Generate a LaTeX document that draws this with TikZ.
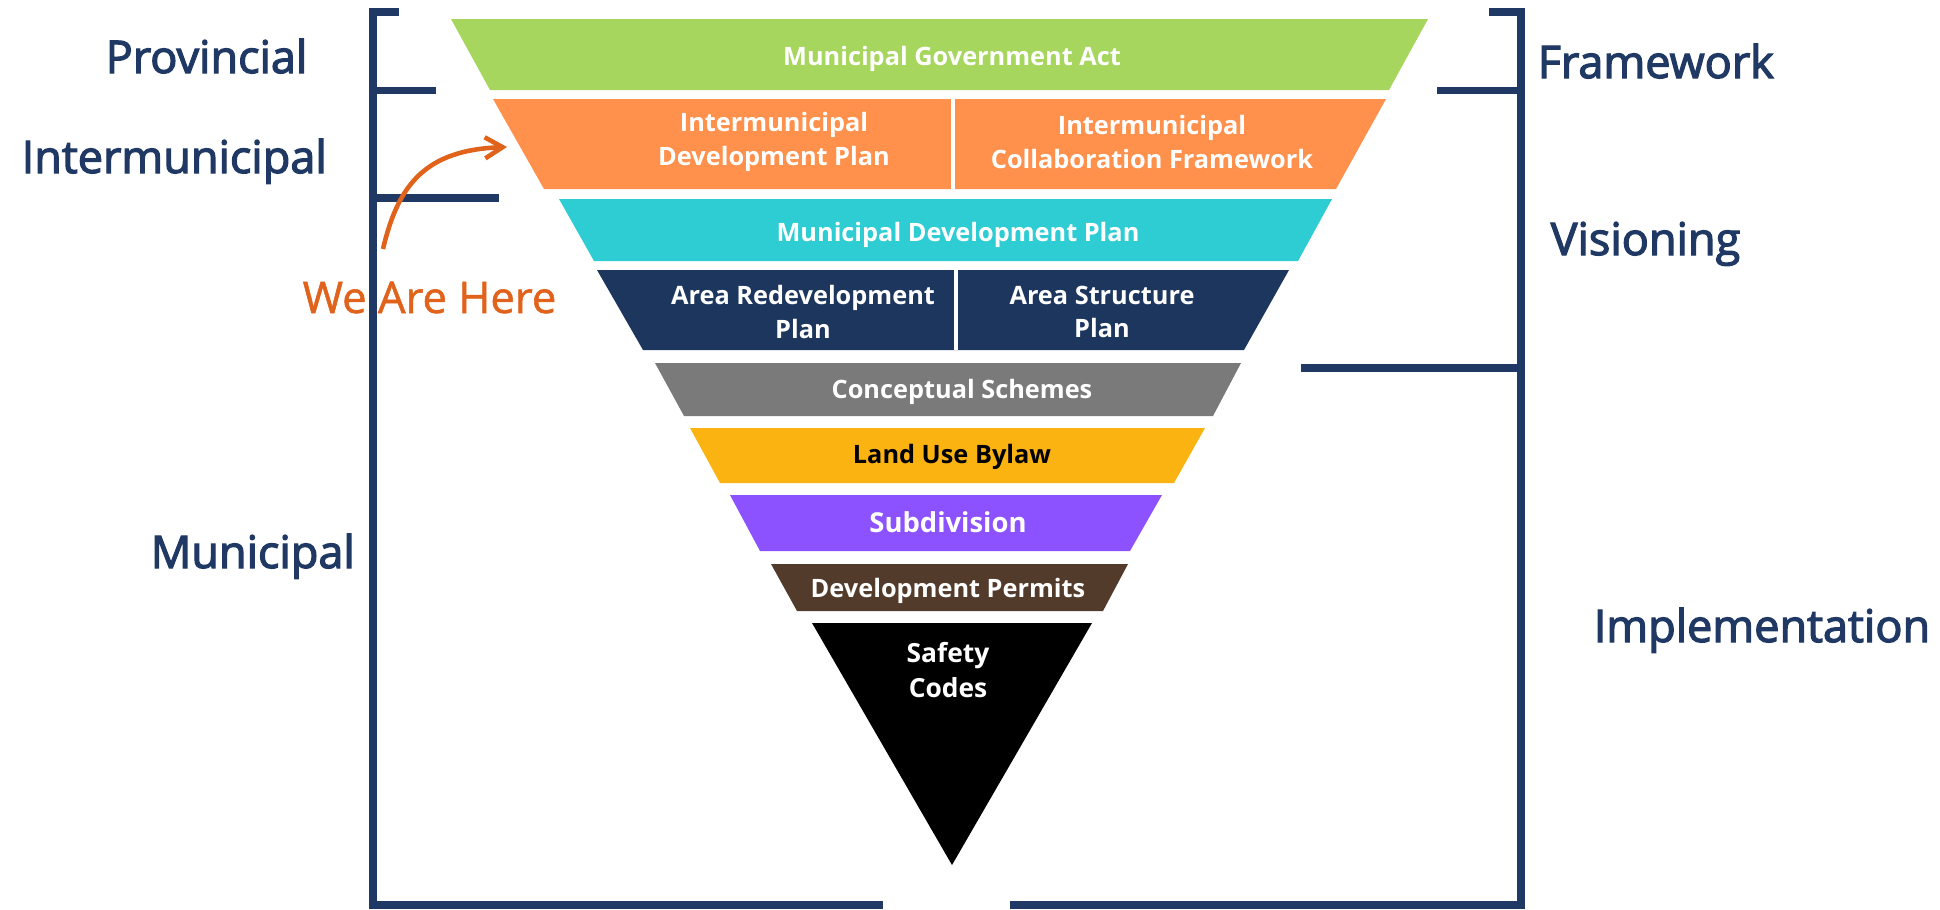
\documentclass[tikz,border=0pt]{standalone}
\usepackage{fontspec}
\setmainfont{Open Sans}
\usepackage{xcolor}
\usepackage{tikz}
\usetikzlibrary{arrows.meta,positioning}

\definecolor{navyline}{HTML}{1F3864}
\definecolor{actgreen}{HTML}{A6D65E}
\definecolor{interorange}{HTML}{FF914D}
\definecolor{mdpcyan}{HTML}{2ECCD3}
\definecolor{areanavy}{HTML}{1C365E}
\definecolor{schemegrey}{HTML}{7A7A7A}
\definecolor{bylawyellow}{HTML}{FBB312}
\definecolor{subpurple}{HTML}{8C52FF}
\definecolor{permitbrown}{HTML}{533B2C}
\definecolor{hereorange}{HTML}{E0621B}

% heavier text by stroking the glyph outlines
\newcommand{\thicktext}[2]{\special{pdf:literal direct 2 Tr #1 w}#2\special{pdf:literal direct 0 Tr}}

\begin{document}
\begin{tikzpicture}[x=0.01cm,y=-0.01cm,
  bracket/.style={draw=navyline, line width=2.2pt},
  sidelabel/.style={anchor=base west, inner sep=0pt, text=navyline,
    font=\fontsize{12.8}{15}\selectfont},
  bandlabel/.style={inner sep=0pt, text=white, align=center,
    font=\fontsize{7.2}{9.6}\selectfont\bfseries},
  wearrow/.style={draw=hereorange, line width=1.3pt,
    -{Straight Barb[length=5pt,width=6pt]}}]

  \useasboundingbox (0,0) rectangle (1940,909);

  % brackets
  \draw[bracket] (399,12) -- (373,12) -- (373,905) -- (883,905);
  \draw[bracket] (373,90.5) -- (436,90.5);
  \draw[bracket] (373,198) -- (499,198);
  \draw[bracket] (1489,12) -- (1521,12) -- (1521,905) -- (1010,905);
  \draw[bracket] (1521,90.5) -- (1437,90.5);
  \draw[bracket] (1521,368) -- (1301,368);

  % funnel
  \fill[actgreen] (451,19) -- (1428,19) -- (1389,90) -- (490,90) -- cycle;
  \fill[interorange] (493,99) -- (1386,99) -- (1336,189) -- (544,189) -- cycle;
  \draw[white, line width=1.4pt] (953,99) -- (953,189);
  \fill[mdpcyan] (559,199) -- (1332,199) -- (1298,261) -- (594,261) -- cycle;
  \fill[areanavy] (597,270) -- (1289,270) -- (1244,350) -- (643,350) -- cycle;
  \draw[white, line width=1.1pt] (956,270) -- (956,350);
  \fill[schemegrey] (655,363) -- (1241,363) -- (1213,416) -- (684,416) -- cycle;
  \fill[bylawyellow] (690,428) -- (1205,428) -- (1174,483) -- (720,483) -- cycle;
  \fill[subpurple] (730,495) -- (1162,495) -- (1130,551) -- (760,551) -- cycle;
  \fill[permitbrown] (771,564) -- (1128,564) -- (1103,611) -- (797,611) -- cycle;
  \fill[black] (812,623) -- (1092,623) -- (952,865) -- cycle;

  \node[bandlabel, anchor=base] (mga) at (952,65) {Municipal Government Act};
  \node[bandlabel] (idp) at (774,142) {Intermunicipal\\Development Plan};
  \node[bandlabel] (icf) at (1152,142) {Intermunicipal\\Collaboration Framework};
  \node[bandlabel, anchor=base] (mdp) at (958,241) {Municipal Development Plan};
  \node[bandlabel] (arp) at (803,312) {Area Redevelopment\\Plan};
  \node[bandlabel] (asp) at (1102,312) {Area Structure\\Plan};
  \node[bandlabel, anchor=base] (cs) at (962,398) {Conceptual Schemes};
  \node[bandlabel, anchor=base, text=black] (lub) at (952,463) {Land Use Bylaw};
  \node[bandlabel, anchor=base, font=\fontsize{7.8}{9.6}\selectfont\bfseries] (sub) at (948,532) {Subdivision};
  \node[bandlabel, anchor=base] (dp) at (948,597) {Development Permits};
  \node[bandlabel, font=\fontsize{7.5}{10}\selectfont\bfseries] (sc) at (948,670) {Safety\\Codes};

  % side labels
  \node[sidelabel] (prov) at (105,73) {\thicktext{0.35}{Provincial}};
  \node[sidelabel] (inter) at (21,173) {\thicktext{0.35}{Intermunicipal}};
  \node[sidelabel] (muni) at (150,568) {\thicktext{0.35}{Municipal}};
  \node[sidelabel] (frame) at (1537,78) {\thicktext{0.35}{Framework}};
  \node[sidelabel] (vision) at (1550,255) {\thicktext{0.35}{Visioning}};
  \node[sidelabel] (impl) at (1593,642) {\thicktext{0.35}{Implementation}};

  \node[anchor=base west, inner sep=0pt, text=hereorange,
    font=\fontsize{12.4}{15}\selectfont] (here) at (302,313) {\thicktext{0.15}{We Are Here}};
  \coordinate (heretail) at (383,249);
  \coordinate (heretip) at (507,147);
  \draw[wearrow] (heretail) .. controls (398,185) and (425,150) .. (heretip);

\end{tikzpicture}
\end{document}
